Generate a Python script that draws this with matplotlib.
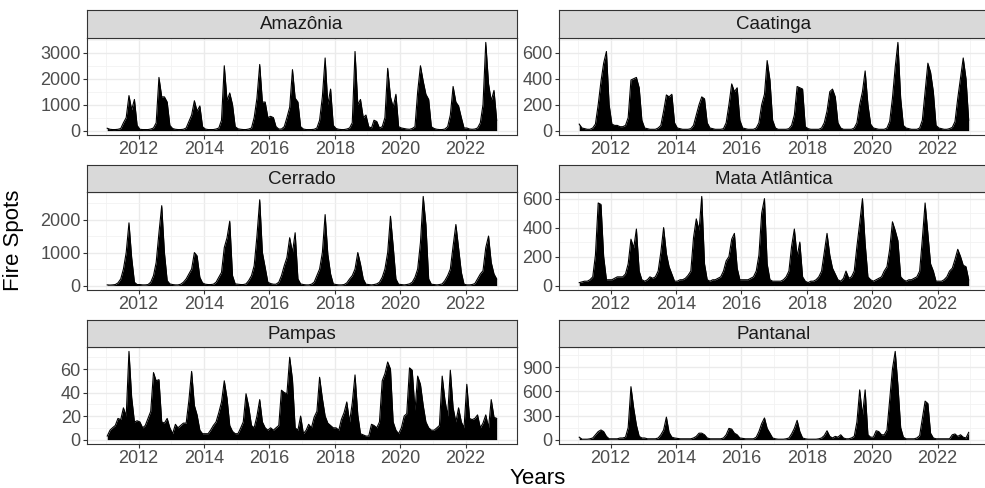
import matplotlib
matplotlib.use("Agg")
import matplotlib.pyplot as plt
import matplotlib.dates as mdates
from matplotlib.ticker import MultipleLocator
import pandas as pd
from datetime import datetime

plt.rcParams["font.family"] = ["Liberation Sans", "DejaVu Sans"]

# Focos de incêndio por bioma (valor mensal aproximado, jan..dez, 2011-2022)
biomas = ["Amazônia", "Caatinga", "Cerrado", "Mata Atlântica", "Pampas", "Pantanal"]

amazonia = [
    90, 50, 40, 40, 50, 80, 300, 500, 1350, 800, 1200, 200,
    50, 40, 40, 40, 60, 100, 300, 2050, 1300, 1300, 1100, 200,
    80, 50, 40, 40, 50, 100, 350, 600, 1150, 750, 950, 150,
    60, 40, 40, 40, 60, 100, 400, 2500, 1150, 1450, 1000, 150,
    70, 50, 40, 40, 60, 100, 500, 1250, 2550, 1100, 1100, 500,
    550, 500, 150, 60, 60, 150, 500, 900, 2350, 1250, 1100, 150,
    60, 40, 40, 40, 50, 100, 400, 1300, 2800, 1000, 1600, 200,
    80, 50, 40, 40, 60, 100, 300, 3050, 1000, 1200, 500, 600,
    150, 100, 400, 350, 100, 150, 500, 2400, 1300, 900, 1400, 150,
    100, 80, 60, 50, 80, 150, 1500, 2500, 1900, 1400, 1200, 150,
    80, 50, 40, 40, 60, 150, 600, 1700, 1100, 950, 500, 100,
    100, 60, 50, 60, 100, 300, 1000, 3400, 1800, 1150, 1550, 400,
]

caatinga = [
    50, 20, 15, 10, 10, 20, 50, 200, 380, 520, 610, 200,
    50, 40, 40, 30, 30, 40, 100, 390, 400, 410, 330, 80,
    20, 15, 10, 10, 10, 20, 40, 150, 275, 260, 280, 60,
    20, 15, 10, 10, 10, 15, 40, 120, 200, 260, 245, 60,
    20, 15, 10, 10, 10, 15, 60, 200, 360, 300, 330, 80,
    20, 15, 10, 10, 10, 20, 60, 200, 280, 540, 390, 80,
    20, 10, 10, 10, 10, 15, 40, 120, 340, 330, 320, 30,
    15, 10, 10, 10, 10, 20, 60, 150, 300, 320, 260, 60,
    20, 10, 10, 10, 10, 20, 60, 200, 300, 460, 200, 50,
    20, 15, 10, 10, 10, 20, 70, 250, 490, 680, 250, 40,
    20, 15, 10, 10, 10, 20, 80, 300, 520, 450, 300, 40,
    20, 15, 10, 10, 15, 25, 70, 250, 410, 560, 400, 80,
]

cerrado = [
    20, 15, 20, 30, 80, 200, 500, 1000, 1900, 850, 100, 30,
    30, 20, 20, 30, 100, 300, 700, 1600, 2420, 1000, 150, 50,
    30, 20, 20, 40, 100, 200, 350, 500, 1000, 900, 250, 80,
    40, 30, 30, 40, 100, 250, 400, 1150, 1450, 1950, 300, 50,
    40, 30, 30, 50, 150, 300, 600, 1500, 2600, 1000, 550, 100,
    60, 40, 40, 100, 300, 600, 850, 1450, 1000, 1600, 200, 50,
    30, 20, 20, 40, 100, 300, 500, 1000, 2150, 950, 350, 50,
    30, 20, 20, 30, 80, 200, 300, 500, 1000, 650, 200, 40,
    30, 20, 30, 50, 100, 250, 500, 1000, 2100, 1200, 200, 40,
    30, 20, 30, 50, 100, 250, 500, 1300, 2700, 1850, 200, 40,
    30, 20, 30, 50, 150, 300, 500, 1200, 1850, 1150, 400, 40,
    20, 20, 30, 60, 200, 350, 450, 1150, 1500, 700, 350, 200,
]

mata_atlantica = [
    20, 25, 30, 30, 40, 60, 210, 570, 560, 200, 40, 40,
    40, 50, 60, 60, 60, 80, 150, 320, 260, 390, 100, 40,
    30, 40, 60, 50, 60, 100, 230, 400, 220, 130, 80, 30,
    30, 40, 40, 50, 70, 100, 330, 460, 380, 615, 150, 40,
    30, 40, 40, 50, 60, 100, 170, 200, 320, 360, 120, 40,
    40, 40, 40, 50, 60, 100, 210, 500, 600, 150, 40, 30,
    30, 30, 30, 40, 60, 100, 270, 390, 200, 300, 60, 30,
    20, 30, 30, 40, 60, 100, 230, 360, 210, 120, 80, 40,
    30, 50, 100, 50, 60, 100, 270, 430, 600, 290, 60, 40,
    30, 40, 50, 60, 100, 130, 250, 440, 380, 310, 60, 40,
    30, 40, 40, 50, 60, 100, 320, 570, 360, 150, 100, 30,
    30, 30, 40, 60, 100, 120, 180, 250, 200, 140, 130, 40,
]

pampas = [
    3, 8, 10, 12, 18, 17, 27, 20, 75, 36, 15, 16,
    15, 10, 12, 18, 24, 57, 50, 51, 15, 14, 18, 10,
    5, 13, 10, 12, 14, 14, 33, 58, 29, 21, 8, 5,
    5, 5, 8, 12, 15, 23, 32, 50, 35, 12, 7, 5,
    5, 10, 15, 39, 28, 12, 10, 20, 34, 15, 10, 8,
    10, 8, 10, 12, 42, 40, 39, 70, 51, 10, 8, 20,
    5, 8, 13, 10, 19, 24, 53, 35, 20, 14, 12, 10,
    10, 8, 17, 23, 32, 15, 31, 55, 21, 5, 4, 3,
    3, 13, 12, 10, 15, 50, 56, 66, 60, 15, 8, 5,
    10, 20, 22, 61, 59, 25, 54, 47, 29, 15, 10, 8,
    8, 10, 12, 54, 34, 20, 59, 27, 15, 27, 15, 10,
    47, 18, 17, 18, 21, 10, 14, 21, 10, 34, 19, 18,
]

pantanal = [
    30, 5, 5, 5, 10, 20, 60, 100, 120, 100, 40, 10,
    10, 10, 10, 20, 20, 30, 150, 660, 390, 180, 40, 20,
    20, 10, 10, 10, 10, 20, 60, 120, 280, 90, 30, 20,
    15, 10, 10, 10, 10, 10, 20, 40, 80, 80, 60, 20,
    10, 10, 10, 10, 10, 20, 60, 140, 130, 80, 60, 20,
    15, 10, 10, 10, 10, 30, 100, 200, 270, 140, 80, 20,
    10, 5, 5, 5, 10, 20, 70, 140, 240, 100, 20, 10,
    5, 5, 5, 5, 10, 20, 50, 110, 40, 20, 40, 30,
    60, 20, 10, 10, 20, 40, 220, 620, 300, 620, 60, 30,
    30, 110, 100, 60, 60, 120, 500, 880, 1100, 680, 150, 30,
    10, 10, 10, 10, 20, 50, 260, 480, 450, 80, 20, 10,
    10, 10, 10, 10, 10, 60, 70, 40, 60, 30, 20, 90,
]

series = [amazonia, caatinga, cerrado, mata_atlantica, pampas, pantanal]
passo_y = [1000, 200, 1000, 200, 20, 300]

datas = pd.date_range("2011-01-01", "2022-12-01", freq="MS") + pd.Timedelta(days=14)

# layout em pixels (985 x 488), estilo facet_wrap do ggplot
W, H = 985, 488
colunas = [(87, 517), (559, 989)]
linhas = [(10, 38, 135), (165, 192, 290), (320, 347, 444)]


def caixa(x0, y0, x1, y1):
    return [x0 / W, 1 - y1 / H, (x1 - x0) / W, (y1 - y0) / H]


fig = plt.figure(figsize=(9.85, 4.88), dpi=100)

for i, (nome, valores) in enumerate(zip(biomas, series)):
    x0, x1 = colunas[i % 2]
    ys, yp, yb = linhas[i // 2]

    ax = fig.add_axes(caixa(x0, yp, x1, yb))
    ax.fill_between(datas, valores, color="black", lw=0)
    ax.plot(datas, valores, color="black", lw=0.8)

    vmax = max(valores)
    ax.set_ylim(-0.05 * vmax, 1.05 * vmax)
    ax.set_xlim(datetime(2010, 6, 3), datetime(2023, 7, 30))
    ax.yaxis.set_major_locator(MultipleLocator(passo_y[i]))
    ax.yaxis.set_minor_locator(MultipleLocator(passo_y[i] / 2))
    ax.xaxis.set_major_locator(mdates.YearLocator(2))
    ax.xaxis.set_minor_locator(mdates.YearLocator(1))
    ax.xaxis.set_major_formatter(mdates.DateFormatter("%Y"))

    ax.set_axisbelow(True)
    ax.grid(which="major", color="#EBEBEB", lw=1.0)
    ax.grid(which="minor", color="#F2F2F2", lw=0.6)
    ax.tick_params(which="major", length=3, width=0.8, color="#333333",
                   labelcolor="#4D4D4D", labelsize=13, pad=1.5)
    ax.tick_params(which="minor", length=0)
    for s in ax.spines.values():
        s.set_color("#333333")
        s.set_linewidth(0.8)

    # faixa do título do painel
    st = fig.add_axes(caixa(x0, ys, x1, yp))
    st.set_facecolor("#D9D9D9")
    st.set_xticks([])
    st.set_yticks([])
    for s in st.spines.values():
        s.set_color("#333333")
        s.set_linewidth(0.8)
    st.text(0.5, 0.48, nome, ha="center", va="center", fontsize=13.5,
            color="#1A1A1A", transform=st.transAxes)

fig.text(14 / W, 1 - 240 / H, "Fire Spots", rotation=90, ha="center",
         va="center", fontsize=16)
fig.text(538 / W, 1 - 478 / H, "Years", ha="center", va="center", fontsize=16)

fig.savefig("out.png", dpi=100)
